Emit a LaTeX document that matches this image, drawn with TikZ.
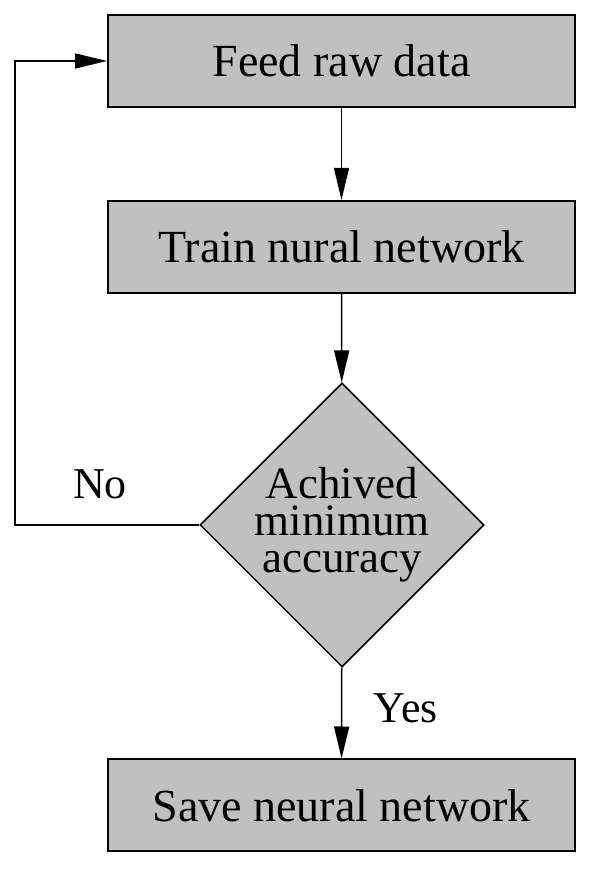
\documentclass[tikz,border=0pt]{standalone}
\usepackage{fontspec}
\setmainfont{Liberation Serif}
\usetikzlibrary{shapes.geometric,arrows.meta}

\definecolor{boxgray}{RGB}{192,192,192}

\tikzset{
    block/.style={draw, line width=2pt, fill=boxgray,
        minimum width=467pt, minimum height=92pt, inner sep=0pt,
        font=\rmfamily\fontsize{46}{37}\selectfont},
    decision/.style={diamond, draw, line width=1.5pt, fill=boxgray,
        minimum width=284pt, minimum height=284pt, inner sep=-8pt,
        align=center, font=\rmfamily\fontsize{45}{37}\selectfont},
    flow/.style={-{Triangle[length=32pt,width=15pt]}, line width=1.5pt},
    tag/.style={font=\rmfamily\fontsize{44}{44}\selectfont},
}

\begin{document}
\begin{tikzpicture}[x=1pt,y=1pt]
    % Fix the page to the size of the reference
    \useasboundingbox (0,0) rectangle (590,869);
    % The steps of the loop
    \node[block] (feed) at (341.5,808) {Feed raw data};
    \node[block] (train) at (341.5,622) {Train nural network};
    \node[decision] (check) at (342,344) {Achived\\minimum\\accuracy};
    \node[block] (save) at (341.5,63.5) {Save neural network};
    % Corner of the way back
    \coordinate (back) at (15,344);
    % Then we draw the connectors
    \draw[flow] (feed) -- (train);
    \draw[flow] (train) -- (check);
    \draw[flow] (check) -- (save);
    \draw[flow] (check.west) -- (back) |- (feed.west);
    % Labels of the two ways out
    \node[tag] (no) at (100,385) {No};
    \node[tag] (yes) at (406,161) {Yes};
\end{tikzpicture}
\end{document}
